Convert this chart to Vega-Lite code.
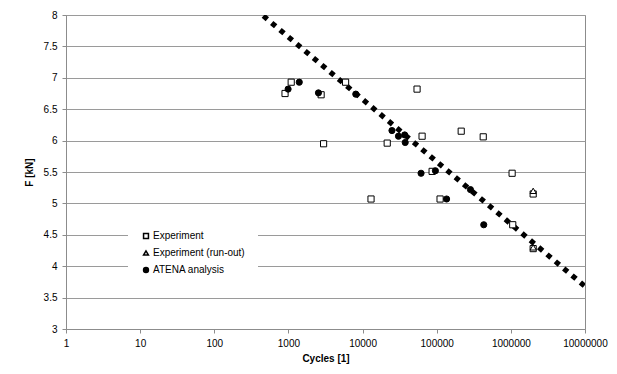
{
  "$schema": "https://vega.github.io/schema/vega-lite/v6.json",
  "width": 519,
  "height": 314,
  "autosize": {"type": "none"},
  "padding": {"left": 66, "top": 15, "right": 32, "bottom": 45},
  "background": "white",
  "config": {
    "view": {"stroke": "#8c8c8c", "strokeWidth": 1},
    "font": "Liberation Sans"
  },
  "datasets": {
    "trend": [
      {"cycles": 459, "F": 7.986},
      {"cycles": 10000000, "F": 3.68}
    ],
    "points": [
      {"cycles": 900, "F": 6.75, "series": "Experiment"},
      {"cycles": 1090, "F": 6.93, "series": "Experiment"},
      {"cycles": 2760, "F": 6.73, "series": "Experiment"},
      {"cycles": 2980, "F": 5.95, "series": "Experiment"},
      {"cycles": 5900, "F": 6.93, "series": "Experiment"},
      {"cycles": 13000, "F": 5.07, "series": "Experiment"},
      {"cycles": 21500, "F": 5.96, "series": "Experiment"},
      {"cycles": 54300, "F": 6.82, "series": "Experiment"},
      {"cycles": 63500, "F": 6.07, "series": "Experiment"},
      {"cycles": 86700, "F": 5.51, "series": "Experiment"},
      {"cycles": 111000, "F": 5.07, "series": "Experiment"},
      {"cycles": 214000, "F": 6.15, "series": "Experiment"},
      {"cycles": 424000, "F": 6.06, "series": "Experiment"},
      {"cycles": 1040000, "F": 5.48, "series": "Experiment"},
      {"cycles": 1060000, "F": 4.66, "series": "Experiment"},
      {"cycles": 2000000, "F": 5.15, "series": "Experiment"},
      {"cycles": 2000000, "F": 4.28, "series": "Experiment"},
      {"cycles": 2000000, "F": 5.2, "series": "Experiment (run-out)"},
      {"cycles": 2000000, "F": 4.3, "series": "Experiment (run-out)"},
      {"cycles": 990, "F": 6.82, "series": "ATENA analysis"},
      {"cycles": 1400, "F": 6.93, "series": "ATENA analysis"},
      {"cycles": 2540, "F": 6.76, "series": "ATENA analysis"},
      {"cycles": 8100, "F": 6.74, "series": "ATENA analysis"},
      {"cycles": 24900, "F": 6.16, "series": "ATENA analysis"},
      {"cycles": 30500, "F": 6.07, "series": "ATENA analysis"},
      {"cycles": 37000, "F": 6.09, "series": "ATENA analysis"},
      {"cycles": 37600, "F": 5.97, "series": "ATENA analysis"},
      {"cycles": 61500, "F": 5.48, "series": "ATENA analysis"},
      {"cycles": 96000, "F": 5.52, "series": "ATENA analysis"},
      {"cycles": 136000, "F": 5.07, "series": "ATENA analysis"},
      {"cycles": 285000, "F": 5.22, "series": "ATENA analysis"},
      {"cycles": 431000, "F": 4.66, "series": "ATENA analysis"}
    ]
  },
  "encoding": {
    "x": {
      "field": "cycles", "type": "quantitative",
      "scale": {"type": "log", "domain": [1, 10000000], "nice": false},
      "axis": {
        "title": "Cycles [1]", "titleFontWeight": "bold", "titleFontSize": 10, "titleColor": "black", "titlePadding": 5,
        "values": [1, 10, 100, 1000, 10000, 100000, 1000000, 10000000],
        "format": "d", "labelFontSize": 10, "labelColor": "black", "labelPadding": 5, "labelFlush": false,
        "grid": false, "domainColor": "#8c8c8c", "tickColor": "#8c8c8c", "tickSize": 4
      }
    },
    "y": {
      "field": "F", "type": "quantitative",
      "scale": {"domain": [3, 8], "nice": false, "zero": false},
      "axis": {
        "title": "F [kN]", "titleFontWeight": "bold", "titleFontSize": 10, "titleColor": "black", "titlePadding": 9,
        "values": [3, 3.5, 4, 4.5, 5, 5.5, 6, 6.5, 7, 7.5, 8],
        "format": "~g", "labelFontSize": 10, "labelColor": "black", "labelPadding": 5, "labelFlush": false,
        "grid": true, "gridColor": "#9a9a9a", "domainColor": "#8c8c8c", "tickColor": "#8c8c8c", "tickSize": 4
      }
    }
  },
  "layer": [
    {
      "data": {"name": "trend"},
      "mark": {"type": "line", "color": "black", "strokeWidth": 5.2, "strokeDash": [5.2, 5.7], "strokeCap": "butt", "clip": true}
    },
    {
      "data": {"name": "points"},
      "mark": {"type": "point", "filled": true, "stroke": "black", "strokeWidth": 1, "opacity": 1, "size": 38},
      "encoding": {
        "shape": {
          "field": "series", "type": "nominal",
          "scale": {"domain": ["Experiment", "Experiment (run-out)", "ATENA analysis"], "range": ["square", "triangle-up", "circle"]},
          "legend": {"orient": "none", "legendX": 62, "legendY": 203, "title": null, "fillColor": "white", "padding": 13, "labelFontSize": 10, "labelColor": "black", "symbolSize": 24, "rowPadding": 5, "labelOffset": 2,
            "encode": {"symbols": {"update": {"stroke": {"value": "black"}, "strokeWidth": {"value": 1}, "size": {"value": 24}}}}}
        },
        "fill": {
          "field": "series", "type": "nominal",
          "scale": {"domain": ["Experiment", "Experiment (run-out)", "ATENA analysis"], "range": ["white", "white", "black"]},
          "legend": {"orient": "none", "legendX": 62, "legendY": 203, "title": null, "fillColor": "white", "padding": 13, "labelFontSize": 10, "labelColor": "black", "symbolSize": 24, "rowPadding": 5, "labelOffset": 2,
            "encode": {"symbols": {"update": {"stroke": {"value": "black"}, "strokeWidth": {"value": 1}, "size": {"value": 24}}}}}
        }
      }
    }
  ]
}
